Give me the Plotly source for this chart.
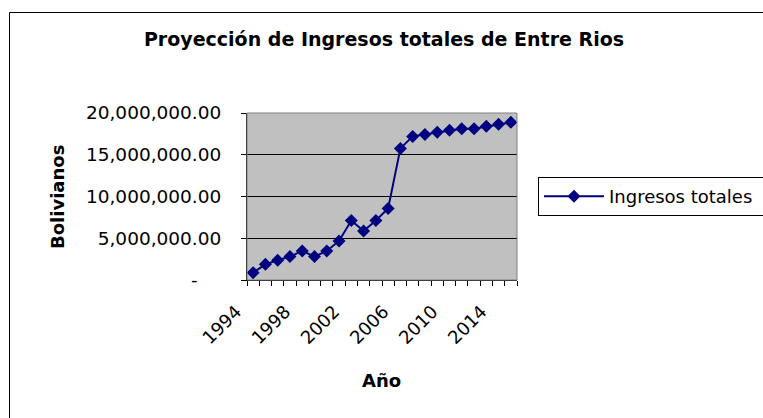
import plotly.graph_objects as go

years = list(range(1994, 2016))
ingresos = [880000, 1880000, 2360000, 2800000, 3480000, 2800000, 3480000, 4680000,
            7120000, 5880000, 7120000, 8560000, 15760000, 17200000, 17440000, 17680000,
            17920000, 18120000, 18120000, 18400000, 18640000, 18880000]
y_tickvals = [0, 5000000, 10000000, 15000000, 20000000]
y_ticktext = ["-\u00a0\u00a0\u00a0\u00a0", "5,000,000.00", "10,000,000.00", "15,000,000.00", "20,000,000.00"]
x_tickvals = [1994, 1998, 2002, 2006, 2010, 2014]

W, H = 763, 418
L, R, T, B = 247, 517, 113, 280
FONT = "DejaVu Sans"

def px(x):
    return (x - L) / (R - L)

def py(y):
    return (B - y) / (B - T)

fig = go.Figure()
fig.add_trace(go.Scatter(
    x=years, y=ingresos, mode="lines+markers", name="Ingresos totales\u00a0",
    line=dict(color="#000080", width=2),
    marker=dict(symbol="diamond", size=10, color="#000080"),
))

fig.update_layout(
    width=W, height=H,
    margin=dict(l=L, r=W - R, t=T, b=H - B, autoexpand=False),
    paper_bgcolor="white", plot_bgcolor="#C0C0C0",
    font=dict(family=FONT, size=18, color="black"),
    title=dict(text="<b>Proyección de Ingresos totales de Entre Rios</b>",
               x=384 / W, xanchor="center", xref="container",
               y=1 - 39 / H, yanchor="middle", yref="container",
               font=dict(family=FONT, size=19, color="black")),
    showlegend=True,
    legend=dict(x=px(538), y=py(177), xanchor="left", yanchor="top",
                bordercolor="black", borderwidth=1, bgcolor="white",
                itemwidth=60,
                font=dict(family=FONT, size=18, color="black")),
    xaxis=dict(range=[1993.5, 2015.5], tickvals=x_tickvals, ticktext=[str(v) for v in x_tickvals],
               ticks="", tickangle=-45, showgrid=False, zeroline=False,
               showline=True, linecolor="black", linewidth=1,
               ticklabelstandoff=13, ticklabelshift=-17,
               minor=dict(tick0=1993.5, dtick=1, ticks="outside", ticklen=5,
                          tickcolor="black", tickwidth=1, showgrid=False),
               tickfont=dict(family=FONT, size=18, color="black")),
    yaxis=dict(range=[0, 20000000], tickvals=y_tickvals, ticktext=y_ticktext,
               ticks="outside", ticklen=5, tickcolor="black",
               showgrid=True, gridcolor="black", gridwidth=1, zeroline=False,
               showline=True, linecolor="black", linewidth=1,
               ticklabelstandoff=16,
               tickfont=dict(family=FONT, size=18.5, color="black")),
    shapes=[
        dict(type="rect", xref="paper", yref="paper", x0=0, x1=1, y0=0, y1=1,
             line=dict(color="#808080", width=1), layer="above"),
        dict(type="rect", xref="paper", yref="paper", x0=px(9.5), x1=px(800),
             y0=py(460), y1=py(12.5), line=dict(color="black", width=1), layer="below"),
    ],
    annotations=[
        dict(text="<b>Bolivianos</b>", textangle=-90, xref="paper", yref="paper",
             x=px(57), y=py(197), xanchor="center", yanchor="middle", showarrow=False,
             font=dict(family=FONT, size=18, color="black")),
        dict(text="<b>Año</b>", xref="paper", yref="paper",
             x=px(381), y=py(380), xanchor="center", yanchor="middle", showarrow=False,
             font=dict(family=FONT, size=18, color="black")),
    ],
)

fig.write_html("out.html", config={"displayModeBar": False},
               post_script="document.body.style.margin='0px';document.body.style.overflow='hidden';")
